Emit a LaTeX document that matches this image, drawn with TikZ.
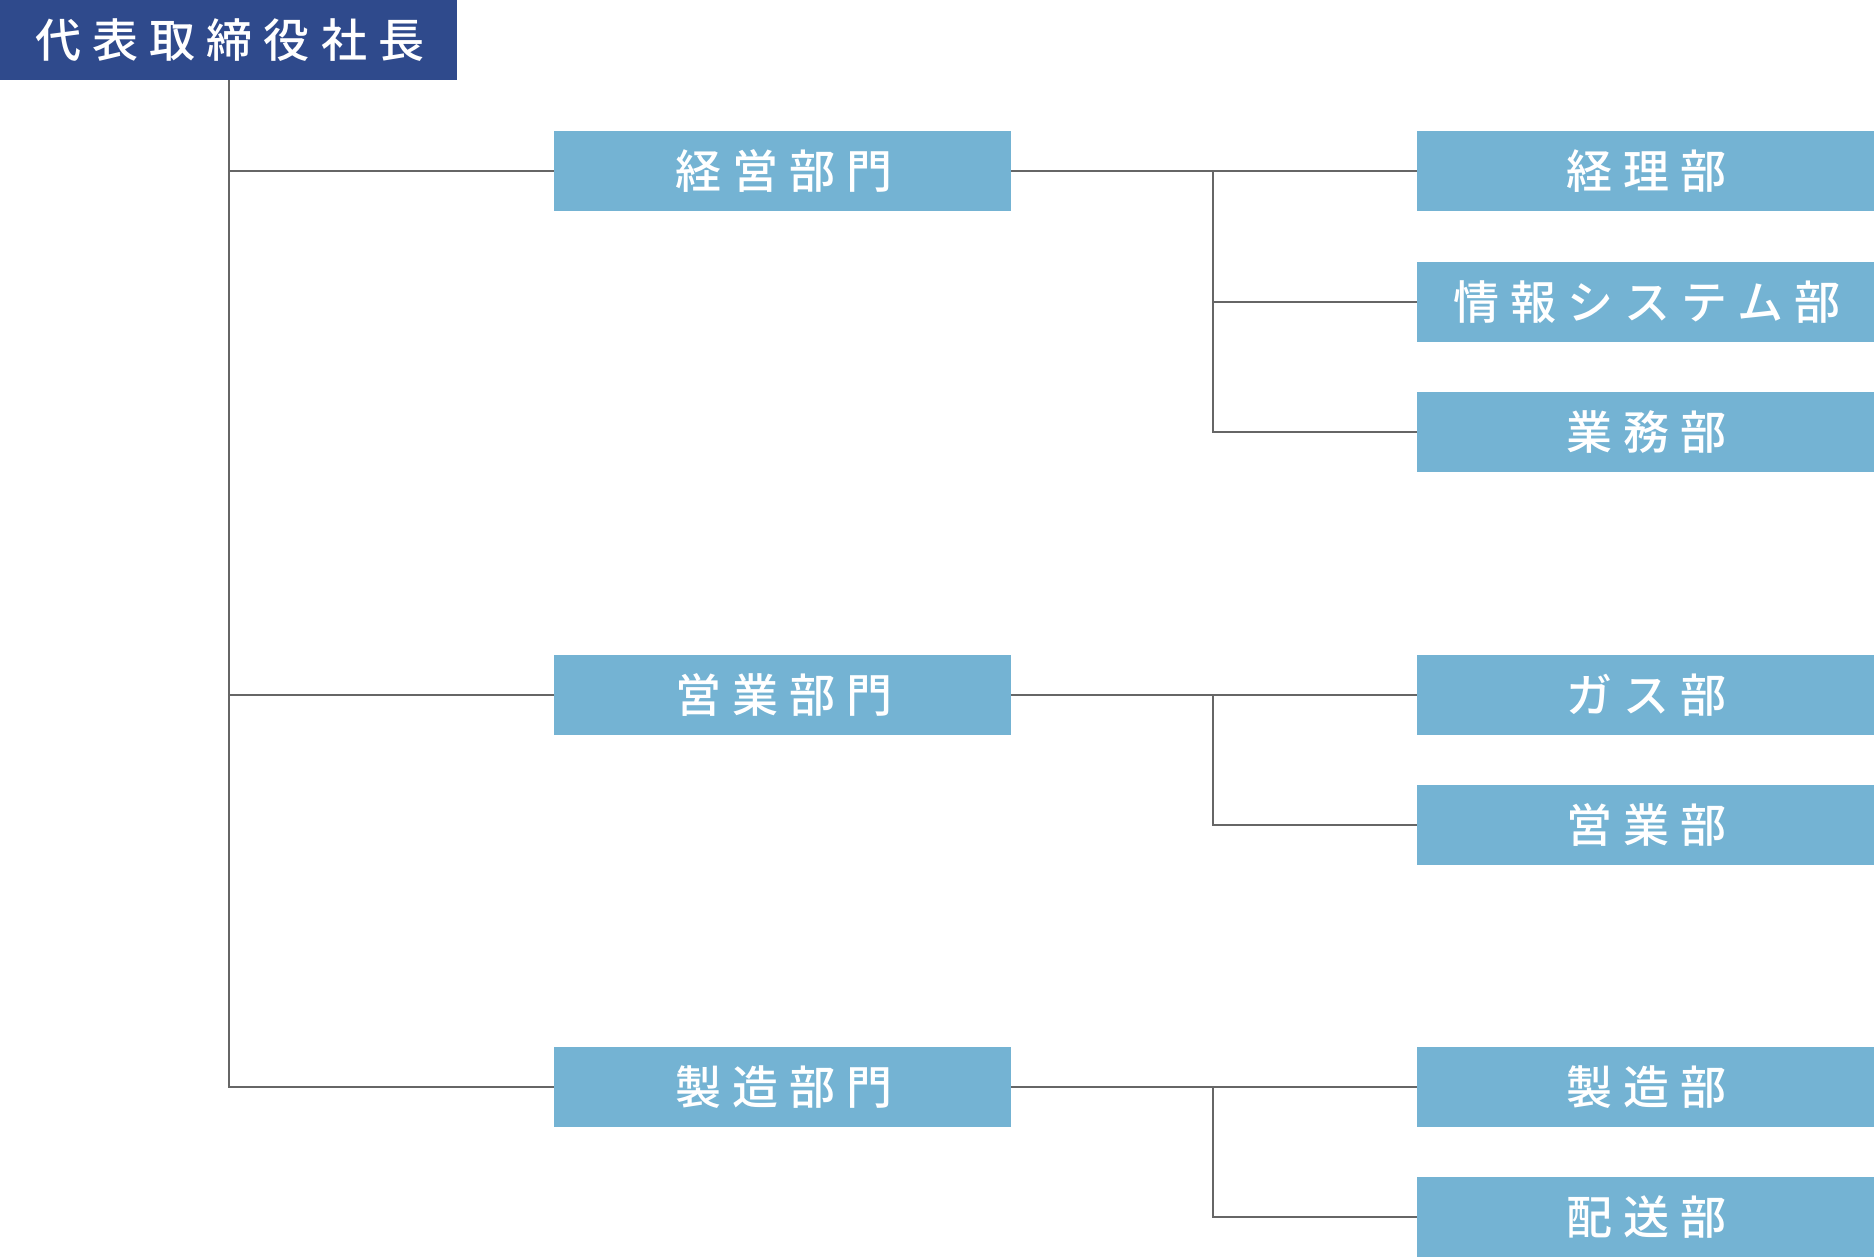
\documentclass[tikz,border=0pt]{standalone}
\usepackage{fontspec}
\setmainfont{Noto Sans CJK JP}[UprightFont=* Medium,LetterSpace=24]
\definecolor{topblue}{HTML}{2F4A8C}
\definecolor{boxblue}{HTML}{74B3D3}
\definecolor{wire}{HTML}{666666}
\newcommand{\tailkern}{\kern-2.6pt}
\begin{document}
\begin{tikzpicture}[x=1pt,y=-1pt,
  box/.style={rectangle,anchor=north west,inner sep=0pt,minimum height=80pt,
    minimum width=457.5pt,fill=boxblue,text=white,font=\fontsize{46pt}{50pt}\selectfont},
  topbox/.style={box,fill=topblue,minimum width=457pt},
  conn/.style={draw=wire,line width=2.4pt}]
\useasboundingbox (0,0) rectangle (1874,1258);
\node[topbox] (top) at (0,0) {代表取締役社長\tailkern};
\node[box] (m1) at (553.5,131) {経営部門\tailkern};
\node[box] (m2) at (553.5,655) {営業部門\tailkern};
\node[box] (m3) at (553.5,1047) {製造部門\tailkern};
\node[box] (r1) at (1416.5,131) {経理部\tailkern};
\node[box] (r2) at (1416.5,262) {情報システム部\tailkern};
\node[box] (r3) at (1416.5,392) {業務部\tailkern};
\node[box] (r4) at (1416.5,655) {ガス部\tailkern};
\node[box] (r5) at (1416.5,785) {営業部\tailkern};
\node[box] (r6) at (1416.5,1047) {製造部\tailkern};
\node[box] (r7) at (1416.5,1177) {配送部\tailkern};
\coordinate (j1) at (1213,171);
\coordinate (j2) at (1213,695);
\coordinate (j3) at (1213,1087);
\draw[conn] (top.south) -- (top.south |- m3.west) -- (m3.west);
\draw[conn] (top.south |- m1.west) -- (m1.west);
\draw[conn] (top.south |- m2.west) -- (m2.west);
\draw[conn] (m1.east) -- (r1.west);
\draw[conn] (j1) |- (r3.west);
\draw[conn] (j1 |- r2.west) -- (r2.west);
\draw[conn] (m2.east) -- (r4.west);
\draw[conn] (j2) |- (r5.west);
\draw[conn] (m3.east) -- (r6.west);
\draw[conn] (j3) |- (r7.west);
\end{tikzpicture}
\end{document}
